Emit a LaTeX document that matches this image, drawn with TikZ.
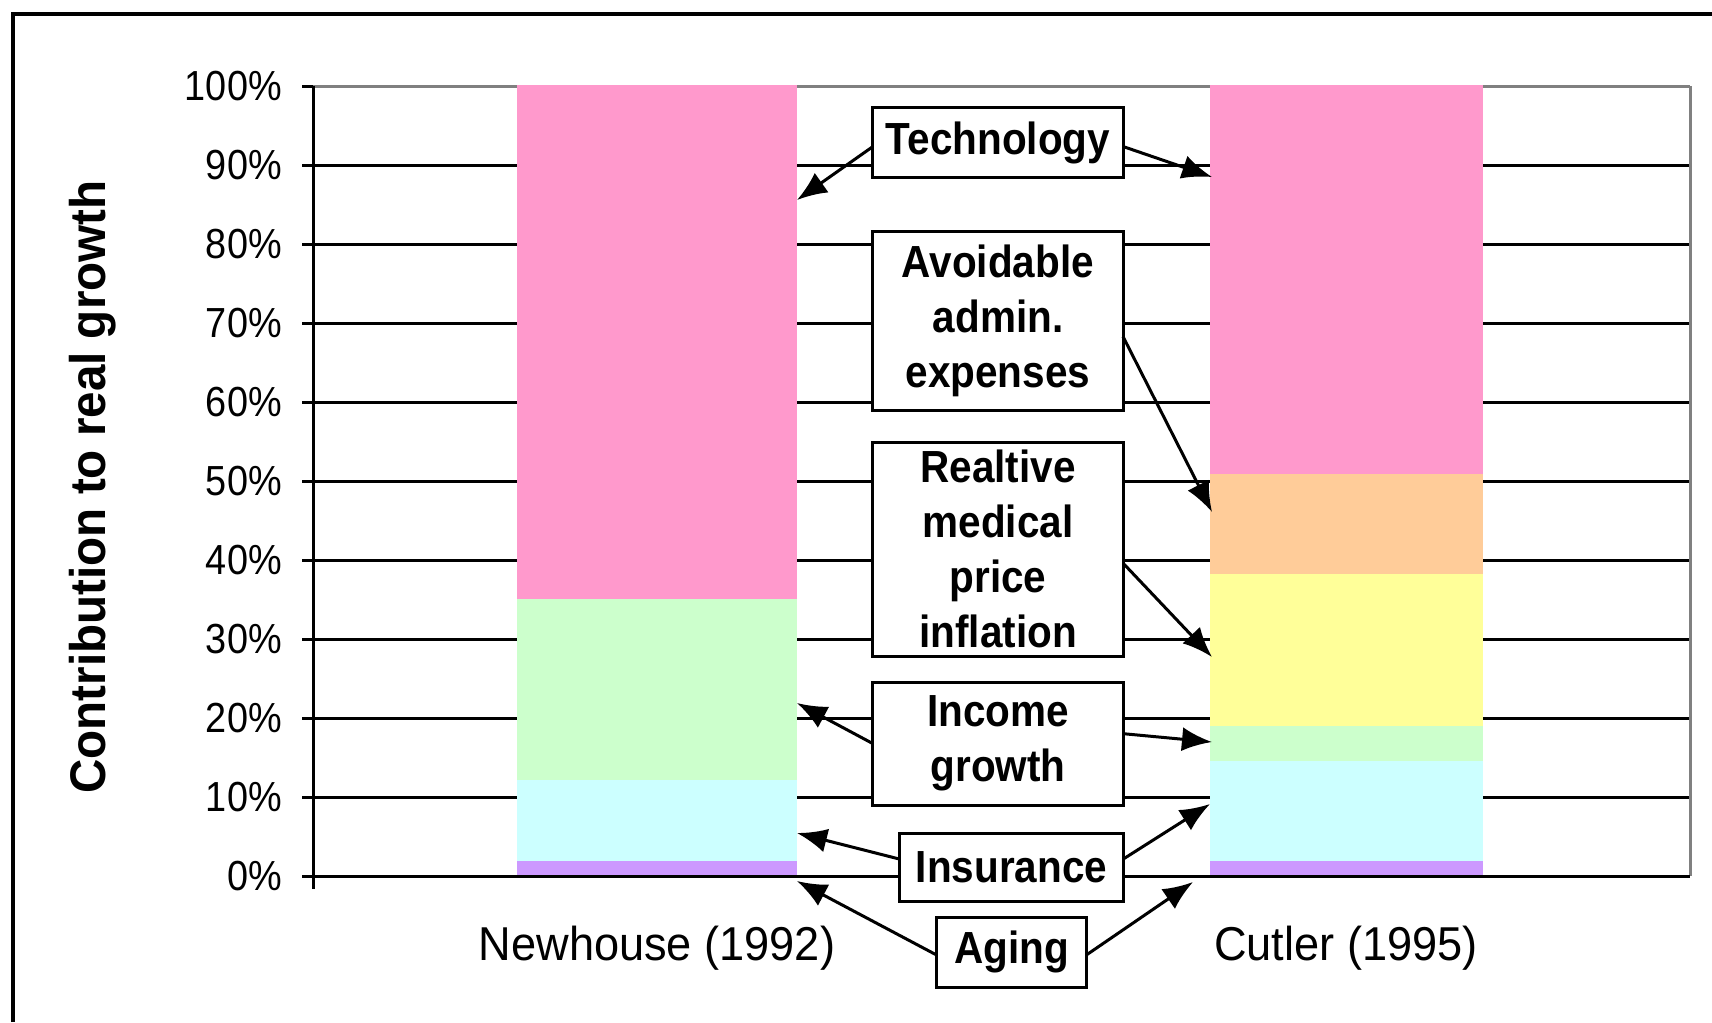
\documentclass[tikz,border=0pt]{standalone}
\usepackage{fontspec}
\setmainfont[FakeStretch=0.9]{Liberation Sans}
\newfontfamily\catfont[FakeStretch=0.95]{Liberation Sans}
\usetikzlibrary{positioning,arrows.meta}

\definecolor{barpink}{HTML}{FF99CC}
\definecolor{barpeach}{HTML}{FFCC99}
\definecolor{baryellow}{HTML}{FFFF99}
\definecolor{bargreen}{HTML}{CCFFCC}
\definecolor{barcyan}{HTML}{CCFFFF}
\definecolor{barlilac}{HTML}{CC99FF}
\definecolor{plotgray}{HTML}{808080}

\tikzset{
	gridrule/.style={line width=0.75mm},
	callout/.style={draw, fill=white, line width=0.75mm, outer sep=0pt, inner sep=0pt,
		align=center, minimum width=62.5mm,
		font=\fontsize{32pt}{39.1pt}\selectfont\bfseries},
	pointer/.style={-{Latex[length=7.5mm,width=6mm]}, line width=0.75mm},
	ticklabel/.style={anchor=east, inner sep=0pt, font=\fontsize{29.9pt}{32pt}\selectfont},
}

\newcommand{\gridrow}[2]{%
\draw[gridrule,#2] (313,{876-7.9*#1}) -- (1690,{876-7.9*#1});%
\draw[gridrule] (302,{876-7.9*#1}) -- (313,{876-7.9*#1});%
\node[ticklabel] (tick#1) at (282,{876-7.9*#1}) {#1\%};%
}
\newcommand{\callarrow}[3]{%
\draw[pointer] ([yshift=#2]#1) -- (#3);%
}

\begin{document}
\begin{tikzpicture}[x=0.025cm,y=-0.025cm]
\useasboundingbox (0,0) rectangle (1712,1022);

% Frame
\draw[line width=1mm] (13,1022) -- (13,14) -- (1712,14);

% Grid lines and ticks
\gridrow{100}{plotgray}
\gridrow{90}{}
\gridrow{80}{}
\gridrow{70}{}
\gridrow{60}{}
\gridrow{50}{}
\gridrow{40}{}
\gridrow{30}{}
\gridrow{20}{}
\gridrow{10}{}
\draw[line width=0.75mm, plotgray] (1690,86) -- (1690,876);

% Newhouse bar
\fill[barlilac] (517,861) rectangle (797,876);
\fill[barcyan] (517,780) rectangle (797,861);
\fill[bargreen] (517,599) rectangle (797,780);
\fill[barpink] (517,85) rectangle (797,599);

% Cutler bar
\fill[barlilac] (1210,861) rectangle (1483,876);
\fill[barcyan] (1210,761) rectangle (1483,861);
\fill[bargreen] (1210,726) rectangle (1483,761);
\fill[baryellow] (1210,574) rectangle (1483,726);
\fill[barpeach] (1210,474) rectangle (1483,574);
\fill[barpink] (1210,85) rectangle (1483,474);

% Axes
\gridrow{0}{}
\draw[gridrule] (313,86) -- (313,889);

% Axis titles
\node[font=\catfont\bfseries\fontsize{35.6pt}{38pt}\selectfont, rotate=90, anchor=base]
	(ylabel) at (105,487) {Contribution to real growth};
\node[font=\catfont\fontsize{33.8pt}{36pt}\selectfont, anchor=base]
	(newhouse) at (657,960) {Newhouse (1992)};
\node[font=\catfont\fontsize{33.8pt}{36pt}\selectfont, anchor=base]
	(cutler) at (1346,960) {Cutler (1995)};

% Technology
\node [callout,
	minimum height=17.25mm
]  (tech) at (998,142.5) {Technology};

% Avoidable admin. expenses
\node [callout,
	minimum height=44.75mm,
	below=13.5mm of tech
]  (admin) {Avoidable\\admin.\\expenses};

% Relative medical price inflation
\node [callout,
	minimum height=53.5mm,
	below=8mm of admin
]  (price) {Realtive\\medical\\price\\inflation};

% Income growth
\node [callout,
	minimum height=30.75mm,
	below=6.5mm of price
]  (income) {Income\\growth};

% Insurance
\node [callout,
	minimum width=55.75mm,
	minimum height=17mm,
	below=7mm of income.south east,
	anchor=north east
]  (insur) {Insurance};

% Aging
\node [callout,
	minimum width=37.25mm,
	minimum height=17.5mm,
	below=4mm of insur
]  (aging) {Aging};

% Arrow targets on the bars
\coordinate (techA) at (797,200);
\coordinate (techB) at (1212,177);
\coordinate (adminB) at (1212,512);
\coordinate (priceB) at (1212,657);
\coordinate (incomeA) at (797,703);
\coordinate (incomeB) at (1212,742);
\coordinate (insurA) at (797,833);
\coordinate (insurB) at (1210,804);
\coordinate (agingA) at (797,881);
\coordinate (agingB) at (1193,882);

% Arrows
\callarrow{tech.west}{-1mm}{techA}
\callarrow{tech.east}{-1mm}{techB}
\callarrow{admin.east}{-4mm}{adminB}
\callarrow{price.east}{-3.5mm}{priceB}
\callarrow{income.west}{0mm}{incomeA}
\callarrow{income.east}{2.5mm}{incomeB}
\callarrow{insur.west}{2mm}{insurA}
\callarrow{insur.east}{2mm}{insurB}
\callarrow{aging.west}{-0.75mm}{agingA}
\callarrow{aging.east}{-0.75mm}{agingB}

\end{tikzpicture}
\end{document}
